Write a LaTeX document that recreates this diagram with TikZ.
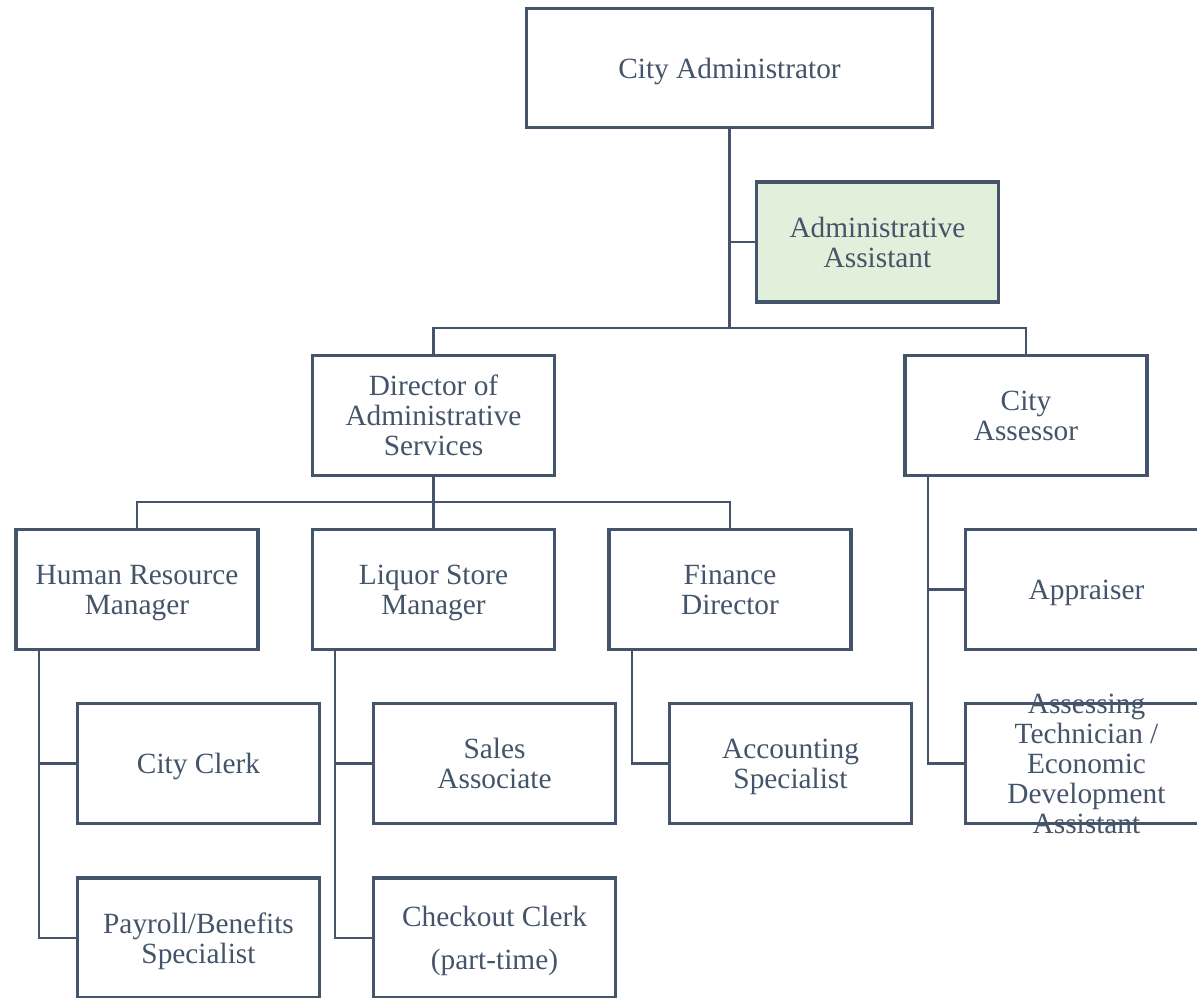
\documentclass[tikz,border=0pt]{standalone}
\usepackage{fontspec}
\setmainfont{Liberation Serif}
\definecolor{ln}{HTML}{44546A}
\definecolor{gfill}{HTML}{E2EFDA}
\newcommand\tsx{\rule{0pt}{20.5pt}}
\newcommand\bsx{\rule[-5pt]{0pt}{5pt}}
\tikzset{
  orgbox/.style={draw=ln, line width=2.5pt, fill=white, inner sep=0pt, align=center, text=ln,
    minimum width=181.5pt, minimum height=90pt, font=\fontsize{22}{22.5}\selectfont},
  bigbox/.style={orgbox, minimum width=304.5pt, minimum height=89.25pt},
  txt/.style={inner sep=0pt, align=center, text=ln, font=\fontsize{22}{22.5}\selectfont},
  conn/.style={draw=ln, line width=1.7pt}
}
\begin{document}
\begin{tikzpicture}[x=0.75pt,y=-0.75pt]
\useasboundingbox (0,0) rectangle (1197,997);
\clip (0,0) rectangle (1197,997);
% nodes
\node[bigbox] (ca) at (729.5,68) {\tsx\bsx City Administrator};
\node[orgbox, fill=gfill] (aa) at (877.5,242) {\tsx Administrative\\\bsx Assistant};
\node[orgbox] (das) at (433.5,415.5) {\tsx Director of\\Administrative\\\bsx Services};
\node[orgbox] (asr) at (1026,415.5) {\tsx City\\\bsx Assessor};
\node[orgbox] (hr) at (137,589.5) {\tsx Human Resource\\\bsx Manager};
\node[orgbox] (lsm) at (433.5,589.5) {\tsx Liquor Store\\\bsx Manager};
\node[orgbox] (fd) at (730,589.5) {\tsx Finance\\\bsx Director};
\node[orgbox] (cc) at (198.5,763.5) {\tsx\bsx City Clerk};
\node[orgbox] (pay) at (198.5,938) {\tsx Payroll/Benefits\\\bsx Specialist};
\node[orgbox] (sa) at (494.5,763.5) {\tsx Sales\\\bsx Associate};
\node[orgbox] (chk) at (494.5,938) {\tsx Checkout Clerk\\[9.75pt]\bsx (part-time)};
\node[orgbox] (acc) at (790.5,763.5) {\tsx Accounting\\\bsx Specialist};
\node[orgbox] (app) at (1086.5,589.5) {\tsx\bsx Appraiser};
\node[orgbox] (ast) at (1086.5,763.5) {};
\node[txt] (astt) at (1086.5,763.5) {\tsx Assessing\\Technician /\\Economic\\Development\\\bsx Assistant};
% connectors
\coordinate (b1) at (729.5,328);
\draw[conn] (ca.south) -- (b1);
\draw[conn] (ca.south |- aa.west) -- (aa.west);
\draw[conn] (das.north) |- (b1);
\draw[conn] (b1) -| (asr.north);
\coordinate (b2) at (433.5,502);
\draw[conn] (das.south) -- (b2);
\draw[conn] (hr.north) |- (b2);
\draw[conn] (b2) -| (fd.north);
\draw[conn] (b2) -- (lsm.north);
\coordinate (hrt) at (39,651);
\draw[conn] (hrt) |- (pay.west);
\draw[conn] (hrt |- cc.west) -- (cc.west);
\coordinate (lst) at (335,651);
\draw[conn] (lst) |- (chk.west);
\draw[conn] (lst |- sa.west) -- (sa.west);
\coordinate (fdt) at (632,651);
\draw[conn] (fdt) |- (acc.west);
\coordinate (ast0) at (928,477);
\draw[conn] (ast0) |- (ast.west);
\draw[conn] (ast0 |- app.west) -- (app.west);
\end{tikzpicture}
\end{document}
